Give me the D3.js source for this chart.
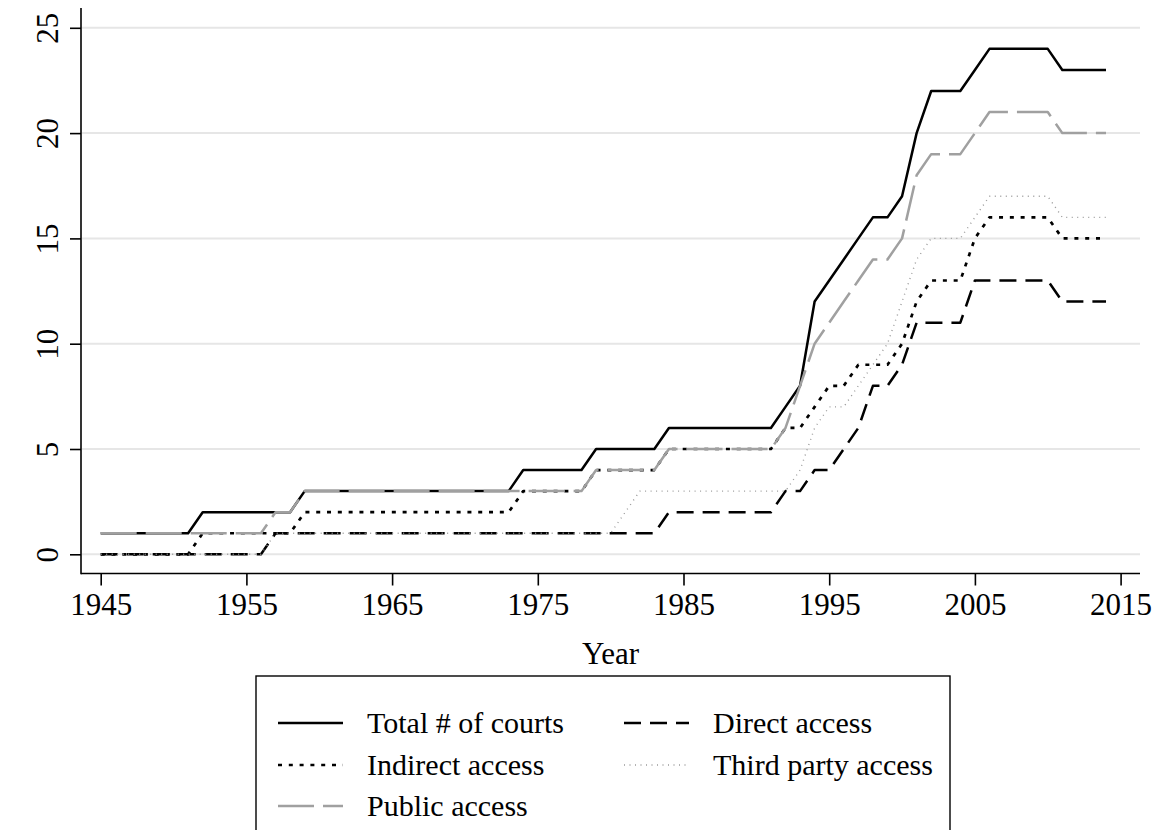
<!DOCTYPE html>
<html>
<head>
<meta charset="utf-8">
<script src="https://cdn.jsdelivr.net/npm/d3@7"></script>
<style>
  html, body { margin: 0; padding: 0; background: #fff; }
  svg { display: block; }
  text { font-family: "Liberation Serif", "Times New Roman", serif; fill: #000; }
</style>
</head>
<body>
<svg id="chart" width="1161" height="830"></svg>
<script>
const years = [1945,1946,1947,1948,1949,1950,1951,1952,1953,1954,1955,1956,1957,1958,1959,
  1960,1961,1962,1963,1964,1965,1966,1967,1968,1969,1970,1971,1972,1973,1974,1975,1976,1977,1978,1979,
  1980,1981,1982,1983,1984,1985,1986,1987,1988,1989,1990,1991,1992,1993,1994,1995,1996,1997,1998,1999,
  2000,2001,2002,2003,2004,2005,2006,2007,2008,2009,2010,2011,2012,2013,2014];

const totalCourts = [1,1,1,1,1,1,1, 2,2,2,2,2,2,2, 3,3,3,3,3,3,3,3,3,3,3,3,3,3,3,
  4,4,4,4,4, 5,5,5,5,5, 6,6,6,6,6,6,6,6,
  7,8,12,13,14,15,16,16,17,20,22,22,22,23,24,24,24,24,24,23,23,23,23];
const directAccess = [0,0,0,0,0,0,0,0,0,0,0,0,
  1,1,1,1,1,1,1,1,1,1,1,1,1,1,1,1,1,1,1,1,1,1,1,1,1,1,1,
  2,2,2,2,2,2,2,2,
  3,3,4,4,5,6,8,8,9,11,11,11,11,13,13,13,13,13,13,12,12,12,12];
const indirectAccess = [0,0,0,0,0,0,0, 1,1,1,1,1,1,1, 2,2,2,2,2,2,2,2,2,2,2,2,2,2,2,
  3,3,3,3,3, 4,4,4,4,4, 5,5,5,5,5,5,5,5,
  6,6,7,8,8,9,9,9,10,12,13,13,13,15,16,16,16,16,16,15,15,15,15];
const thirdPartyAccess = [0,0,0,0,0,0,0,0,0,0,0,0,
  1,1,1,1,1,1,1,1,1,1,1,1,1,1,1,1,1,1,1,1,1,1,1,1,
  2, 3,3,3,3,3,3,3,3,3,3,
  3,4,6,7,7,8,9,10,12,14,15,15,15,16,17,17,17,17,17,16,16,16,16];
const publicAccess = [1,1,1,1,1,1,1,1,1,1,1,1, 2,2,
  3,3,3,3,3,3,3,3,3,3,3,3,3,3,3,3,3,3,3,3,
  4,4,4,4,4, 5,5,5,5,5,5,5,5,
  6,8,10,11,12,13,14,14,15,18,19,19,19,20,21,21,21,21,21,20,20,20,20];

const seriesNames = ["Total # of courts", "Direct access", "Indirect access", "Third party access", "Public access"];
const xTicks = [1945, 1955, 1965, 1975, 1985, 1995, 2005, 2015];
const yTicks = [0, 5, 10, 15, 20, 25];
const xTitle = "Year";

const seriesValues = [totalCourts, directAccess, indirectAccess, thirdPartyAccess, publicAccess];
const styles = [
  {color: "#000000", width: 2.5, dash: null},
  {color: "#000000", width: 2.5, dash: "17,9"},
  {color: "#000000", width: 2.7, dash: "4,6.8"},
  {color: "#9a9a9a", width: 1.4, dash: "1,4.5"},
  {color: "#a0a0a0", width: 2.5, dash: "36,9"}
];

const svg = d3.select("#chart");
svg.append("rect").attr("width", 1161).attr("height", 830).attr("fill", "#fff");

const x = d3.scaleLinear().domain([1945, 2015]).range([100.7, 1120.6]);
const y = d3.scaleLinear().domain([0, 25]).range([554.3, 27.8]);

const plotLeft = 81, plotRight = 1140, plotTop = 8, plotBottom = 573.5;
const tickFont = 31, legendFont = 30;

// gridlines
svg.append("g").selectAll("line").data(yTicks).join("line")
  .attr("x1", plotLeft + 1).attr("x2", plotRight)
  .attr("y1", d => y(d)).attr("y2", d => y(d))
  .attr("stroke", "#e6e6e6").attr("stroke-width", 2);

// axes
const xAxis = d3.axisBottom(x).tickValues(xTicks).tickFormat(d3.format("d")).tickSize(12).tickPadding(7);
const gx = svg.append("g").attr("transform", `translate(0,${plotBottom})`).call(xAxis);
gx.select(".domain").remove();
gx.selectAll(".tick line").attr("stroke", "#000").attr("stroke-width", 1.6);
gx.selectAll(".tick text").attr("font-size", tickFont).attr("font-family", "Liberation Serif").attr("dy", "0.71em");

const yAxis = d3.axisLeft(y).tickValues(yTicks).tickSize(11).tickFormat(d3.format("d"));
const gy = svg.append("g").attr("transform", `translate(${plotLeft},0)`).call(yAxis);
gy.select(".domain").remove();
gy.selectAll(".tick line").attr("stroke", "#000").attr("stroke-width", 1.6);
gy.selectAll(".tick text")
  .attr("font-size", tickFont).attr("font-family", "Liberation Serif")
  .attr("x", null).attr("dy", null)
  .attr("text-anchor", "middle")
  .attr("transform", "translate(-23,0) rotate(-90)");

svg.append("line").attr("x1", plotLeft).attr("x2", plotLeft).attr("y1", plotTop).attr("y2", plotBottom + 0.8)
  .attr("stroke", "#000").attr("stroke-width", 1.6);
svg.append("line").attr("x1", plotLeft).attr("x2", plotRight).attr("y1", plotBottom).attr("y2", plotBottom)
  .attr("stroke", "#000").attr("stroke-width", 1.6);

svg.append("text").attr("x", (plotLeft + plotRight) / 2).attr("y", 664)
  .attr("text-anchor", "middle").attr("font-size", tickFont).text(xTitle);

// lines
const line = d3.line().x((d, i) => x(years[i])).y(d => y(d));
seriesValues.forEach((vals, k) => {
  const p = svg.append("path").datum(vals)
    .attr("fill", "none")
    .attr("stroke", styles[k].color)
    .attr("stroke-width", styles[k].width)
    .attr("stroke-linejoin", "round")
    .attr("d", line);
  if (styles[k].dash) p.attr("stroke-dasharray", styles[k].dash);
});

// legend
const lg = svg.append("g");
lg.append("rect").attr("x", 256).attr("y", 676).attr("width", 694).attr("height", 170)
  .attr("fill", "#fff").attr("stroke", "#000").attr("stroke-width", 1.4);
const legendPos = [
  {col: 0, row: 0}, {col: 1, row: 0}, {col: 0, row: 1}, {col: 1, row: 1}, {col: 0, row: 2}
];
const colKeyX = [278, 624], keyLen = 65, textGap = 24, rowY = [723, 765, 806];
seriesNames.forEach((name, k) => {
  const p = legendPos[k];
  const kx = colKeyX[p.col], ky = rowY[p.row];
  const l = lg.append("line").attr("x1", kx).attr("x2", kx + keyLen).attr("y1", ky).attr("y2", ky)
    .attr("stroke", styles[k].color).attr("stroke-width", styles[k].width);
  if (styles[k].dash) l.attr("stroke-dasharray", styles[k].dash);
  lg.append("text").attr("x", kx + keyLen + textGap).attr("y", ky + 10)
    .attr("font-size", legendFont).text(name);
});
</script>
</body>
</html>
